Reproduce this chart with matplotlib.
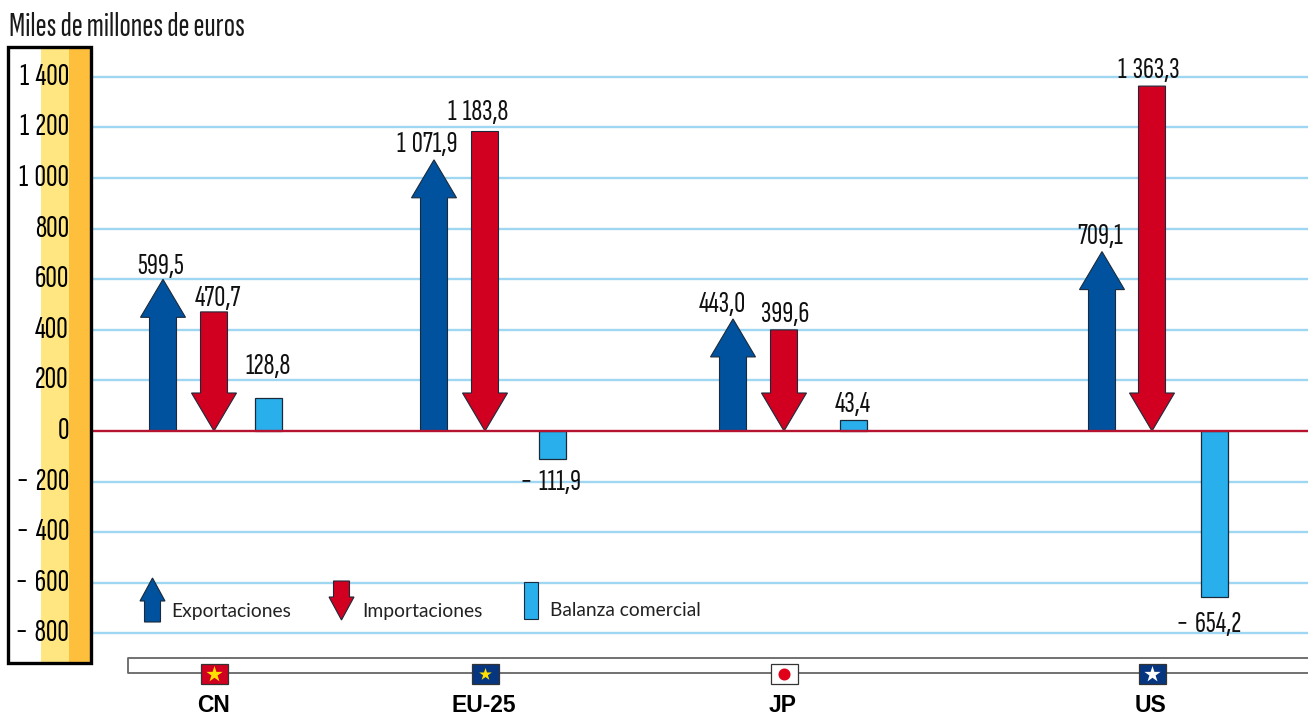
import matplotlib
matplotlib.use('Agg')
import matplotlib.pyplot as plt
from matplotlib.patches import Polygon, Rectangle

# datos (miles de millones de euros)
paises = ['CN', 'EU-25', 'JP', 'US']
exportaciones = [599.5, 1071.9, 443.0, 709.1]
importaciones = [470.7, 1183.8, 399.6, 1363.3]
balanza = [128.8, -111.9, 43.4, -654.2]
etiq_exp = ['599,5', '1\u2009071,9', '443,0', '709,1']
etiq_imp = ['470,7', '1\u2009183,8', '399,6', '1\u2009363,3']
etiq_bal = ['128,8', '\u2212\u2009111,9', '43,4', '\u2212\u2009654,2']
ticks = [1400, 1200, 1000, 800, 600, 400, 200, 0, -200, -400, -600, -800]
etiq_ticks = ['1\u2009400', '1\u2009200', '1\u2009000', '800', '600', '400', '200', '0',
              '\u2212\u2009200', '\u2212\u2009400', '\u2212\u2009600', '\u2212\u2009800']

# posiciones horizontales (pixeles de la figura)
x_exp = [163, 434, 733, 1102]
x_imp = [214, 485, 784, 1152]
x_bal = [268, 552, 853, 1214]

AZUL = '#00529F'
ROJO = '#D20020'
CELESTE = '#29B0EC'
LINEA = '#9FD6F2'
BORDE = '#1B2A3A'

ESTRECHA = ['Sofia Sans Extra Condensed', 'Fira Sans Extra Condensed', 'PT Sans Narrow', 'Liberation Sans', 'DejaVu Sans']
plt.rcParams['font.family'] = ESTRECHA

W, H = 1308, 715
fig = plt.figure(figsize=(W / 100, H / 100), dpi=100)
ax = fig.add_axes([0, 0, 1, 1])

# escala: 200 unidades = 50.6 px, el cero esta en y=431 px
PX = 200 / 50.6
def yv(py):
    return (431 - py) * PX

ax.set_xlim(0, W)
ax.set_ylim(yv(H), yv(0))
ax.axis('off')

# panel del eje
ax.add_patch(Rectangle((41, yv(663)), 28, PX * 616, fc='#FFE680', ec='none', zorder=1))
ax.add_patch(Rectangle((69, yv(663)), 22, PX * 616, fc='#FDBF3C', ec='none', zorder=1))
ax.add_patch(Rectangle((8, yv(663)), 83, PX * 616, fc='none', ec='black', lw=2.4, zorder=5))

for t, lab in zip(ticks, etiq_ticks):
    ax.text(69, t, lab, ha='right', va='center', fontsize=23, color='black', zorder=6)
    if t != 0:
        ax.plot([92, W], [t, t], color=LINEA, lw=1.7, zorder=1, solid_capstyle='butt')
ax.plot([92, W], [0, 0], color='#B5132F', lw=1.7, zorder=4, solid_capstyle='butt')

ax.text(9, yv(27), 'Miles de millones de euros', ha='left', va='center',
        fontsize=24, color='#1a1a1a')


def flecha_arriba(xc, y0, y1, mm=13.5, mc=22.5, cab=38):
    c = y1 - cab * PX
    pts = [(xc - mm, y0), (xc - mm, c), (xc - mc, c), (xc, y1),
           (xc + mc, c), (xc + mm, c), (xc + mm, y0)]
    ax.add_patch(Polygon(pts, closed=True, fc=AZUL, ec=BORDE, lw=0.8, zorder=3))


def flecha_abajo(xc, y0, y1, mm=13.5, mc=22.5, cab=38):
    c = y1 + cab * PX
    pts = [(xc - mm, y0), (xc - mm, c), (xc - mc, c), (xc, y1),
           (xc + mc, c), (xc + mm, c), (xc + mm, y0)]
    ax.add_patch(Polygon(pts, closed=True, fc=ROJO, ec=BORDE, lw=0.8, zorder=3))


# flechas y barras
for xe, xi, xb, e, i, b in zip(x_exp, x_imp, x_bal, exportaciones, importaciones, balanza):
    flecha_arriba(xe, 0, e)
    flecha_abajo(xi, i, 0)
    ax.bar(xb, b, width=27, color=CELESTE, edgecolor=BORDE, linewidth=0.9, zorder=3)

# etiquetas de valores (ajustadas a mano)
pos_exp = [(161, 267), (427, 145), (722, 305), (1100, 236)]
pos_imp = [(218, 298), (478, 113), (785, 314), (1149, 70)]
pos_bal = [(268, 366), (550, 483), (853, 405), (1209, 624)]
for labs, pos in ((etiq_exp, pos_exp), (etiq_imp, pos_imp), (etiq_bal, pos_bal)):
    for lab, (px, py) in zip(labs, pos):
        ax.text(px, yv(py), lab, ha='center', va='center', fontsize=22, color='#111111', zorder=6)

# leyenda
flecha_arriba(152.5, yv(622), yv(578), mm=8, mc=12.5, cab=23)
flecha_abajo(341.5, yv(581), yv(620), mm=8, mc=12.5, cab=23)
ax.add_patch(Rectangle((524, yv(619)), 14, 37 * PX, fc=CELESTE, ec=BORDE, lw=0.8, zorder=3))
for px, lab in ((171, 'Exportaciones'), (362, 'Importaciones'), (550, 'Balanza comercial')):
    ax.text(px, yv(611), lab, ha='left', va='center', fontsize=13.9, color='#222222',
            family=['Lato', 'DejaVu Sans'], zorder=6)

# tira inferior con banderas
ax.plot([1308, 128, 128, 1308], [yv(658), yv(658), yv(673), yv(673)],
        color='#666666', lw=1.3, zorder=2)
fondos = ['#D20020', '#06367F', 'white', '#06367F']
estrellas = ['#FFE000', '#FFE000', None, 'white']
tam = [150, 90, 0, 150]
for xf, nom, fondo, est, s in zip(x_imp, paises, fondos, estrellas, tam):
    ax.add_patch(Rectangle((xf - 13.5, yv(684)), 27, 20 * PX, fc=fondo, ec='#333333', lw=0.9, zorder=3))
    if est:
        ax.scatter([xf], [yv(674)], marker='*', s=s, color=est, linewidths=0, zorder=4)
    else:
        ax.scatter([xf], [yv(674)], marker='o', s=75, color='#E0001A', linewidths=0, zorder=4)
    ax.text(xf - 1, yv(706), nom, ha='center', va='center', fontsize=16.5, fontweight='bold',
            family=['Liberation Sans', 'DejaVu Sans'], color='black')

fig.savefig('out.png', dpi=100)
